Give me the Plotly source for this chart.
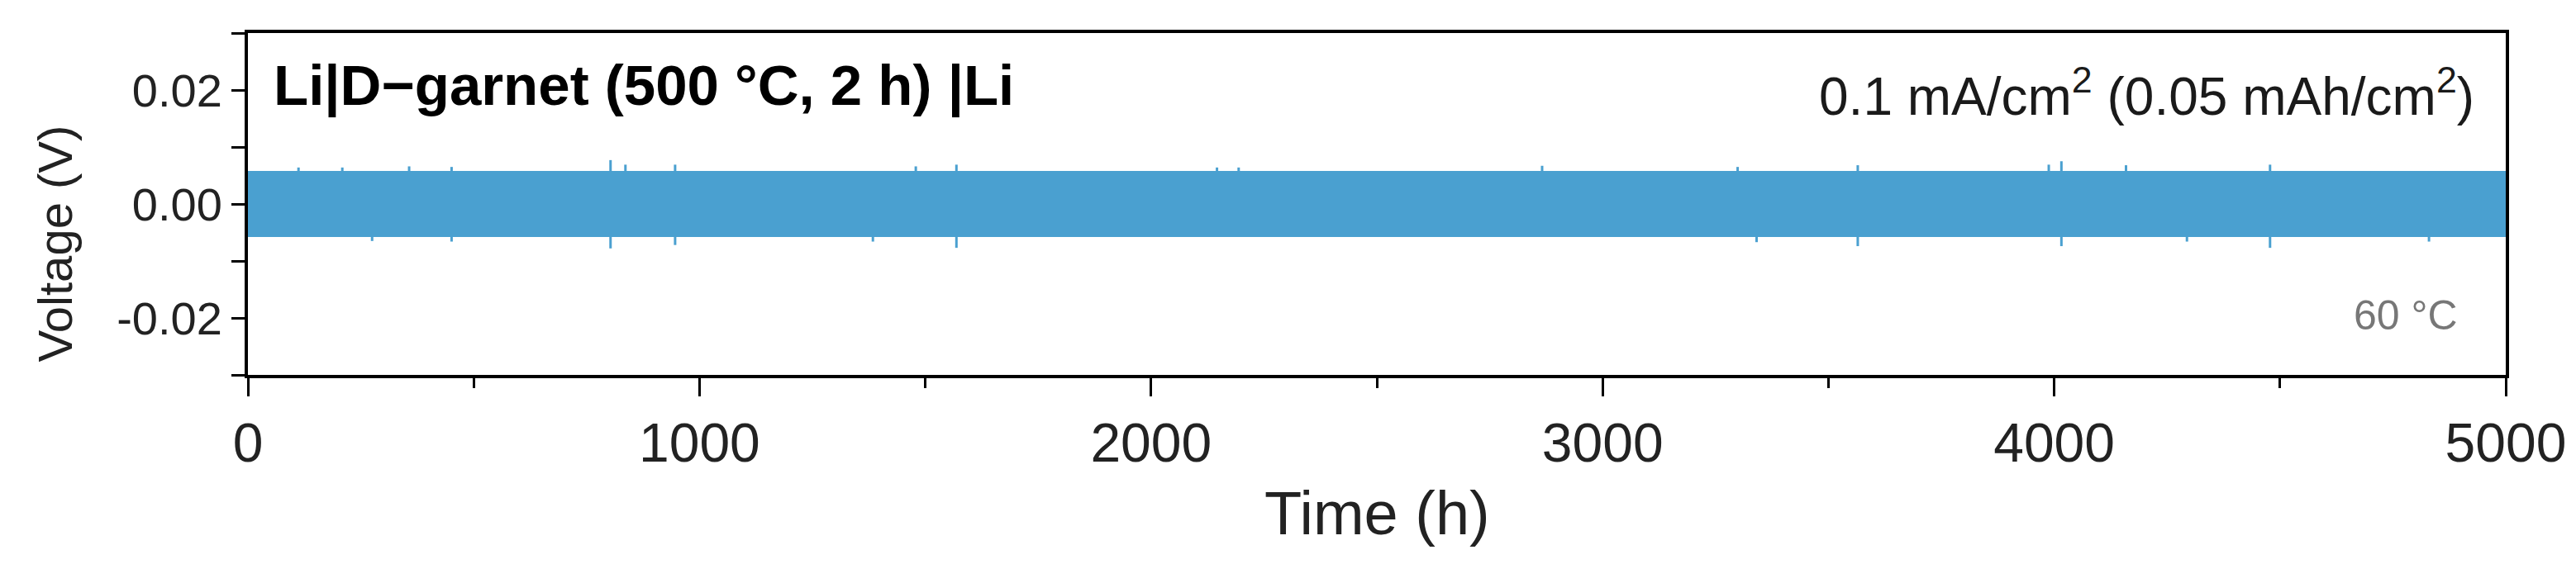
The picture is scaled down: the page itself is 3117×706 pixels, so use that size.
import plotly.graph_objects as go

# ---- data ----
time_range_h = [0, 5000]
band_upper_v = [0.0058, 0.0058]      # envelope of the symmetric polarization
band_lower_v = [-0.0058, -0.0058]

spike_up_time_h = [112, 209, 357, 451, 803, 836, 946, 1479, 1569, 2146, 2194,
                   2866, 3299, 3565, 3988, 4016, 4159, 4478]
spike_up_v = [0.0064, 0.0064, 0.0066, 0.0065, 0.0077, 0.0069, 0.0069, 0.0066,
              0.0069, 0.0064, 0.0064, 0.0067, 0.0065, 0.0068, 0.0069, 0.0075,
              0.0068, 0.0069]
spike_dn_time_h = [275, 451, 803, 946, 1384, 1569, 3341, 3565, 4016, 4294, 4478, 4830]
spike_dn_v = [-0.0065, -0.0066, -0.0078, -0.0072, -0.0066, -0.0077, -0.0067,
              -0.0074, -0.0074, -0.0066, -0.0077, -0.0066]

y_tick_vals = [-0.03, -0.02, -0.01, 0.0, 0.01, 0.02, 0.03]
y_tick_text = ["", "-0.02", "", "0.00", "", "0.02", ""]
x_tick_vals = [0, 1000, 2000, 3000, 4000, 5000]
x_tick_text = ["0", "1000", "2000", "3000", "4000", "5000"]

BLUE = "#4AA0D0"
FONT = "Liberation Sans, Arial, sans-serif"

fig = go.Figure()
fig.add_trace(go.Scatter(x=time_range_h, y=band_upper_v, mode="lines",
                         line=dict(color=BLUE, width=0), showlegend=False,
                         hoverinfo="skip"))
fig.add_trace(go.Scatter(x=time_range_h, y=band_lower_v, mode="lines",
                         line=dict(color=BLUE, width=0), fill="tonexty",
                         fillcolor=BLUE, showlegend=False))

sx, sy = [], []
for t, v in zip(spike_up_time_h, spike_up_v):
    sx += [t, t, None]
    sy += [band_upper_v[0], v, None]
for t, v in zip(spike_dn_time_h, spike_dn_v):
    sx += [t, t, None]
    sy += [band_lower_v[0], v, None]
fig.add_trace(go.Scatter(x=sx, y=sy, mode="lines",
                         line=dict(color=BLUE, width=3), showlegend=False))

fig.update_layout(
    width=3117, height=706,
    margin=dict(l=292, r=93, t=32, b=260),
    paper_bgcolor="white", plot_bgcolor="white",
    font=dict(family=FONT, color="#222222"),
    showlegend=False,
)
fig.update_xaxes(
    range=[0, 5000], tickvals=x_tick_vals, ticktext=x_tick_text,
    ticks="outside", ticklen=22, tickwidth=3, tickcolor="black",
    minor=dict(dtick=500, ticks="outside", ticklen=12, tickwidth=3, tickcolor="black"),
    showline=True, linecolor="black", linewidth=4, mirror=True,
    showgrid=False, zeroline=False,
    tickfont=dict(size=66, color="#222222", family=FONT),
    ticklabelstandoff=0,
)
fig.update_yaxes(
    range=[-0.03, 0.03], tickvals=y_tick_vals, ticktext=y_tick_text,
    ticks="outside", ticklen=16, tickwidth=3, tickcolor="black",
    showline=True, linecolor="black", linewidth=4, mirror=True,
    showgrid=False, zeroline=False,
    tickfont=dict(size=56, color="#222222", family=FONT),
)

fig.add_annotation(text="Voltage (V)", xref="paper", yref="paper", x=-0.0858, y=0.384,
                   textangle=-90, showarrow=False, xanchor="center", yanchor="middle",
                   font=dict(size=58, color="#222222", family=FONT))
fig.add_annotation(text="Time (h)", xref="paper", yref="paper", x=0.5, y=-0.405,
                   showarrow=False, xanchor="center", yanchor="middle",
                   font=dict(size=74, color="#222222", family=FONT))
fig.add_annotation(text="<b>Li|D−garnet (500 °C, 2 h) |Li</b>", xref="paper", yref="paper",
                   x=0.0105, y=0.845, showarrow=False, xanchor="left", yanchor="middle",
                   font=dict(size=69, color="black", family=FONT))
fig.add_annotation(text="0.1 mA/cm<sup>2</sup> (0.05 mAh/cm<sup>2</sup>)", xref="paper",
                   yref="paper", x=0.987, y=0.825, showarrow=False, xanchor="right",
                   yanchor="middle", font=dict(size=64, color="#1a1a1a", family=FONT))
fig.add_annotation(text="60 °C", xref="paper", yref="paper", x=0.9795, y=0.175,
                   showarrow=False, xanchor="right", yanchor="middle",
                   font=dict(size=50, color="#777777", family=FONT))

fig.write_html("out.html")
